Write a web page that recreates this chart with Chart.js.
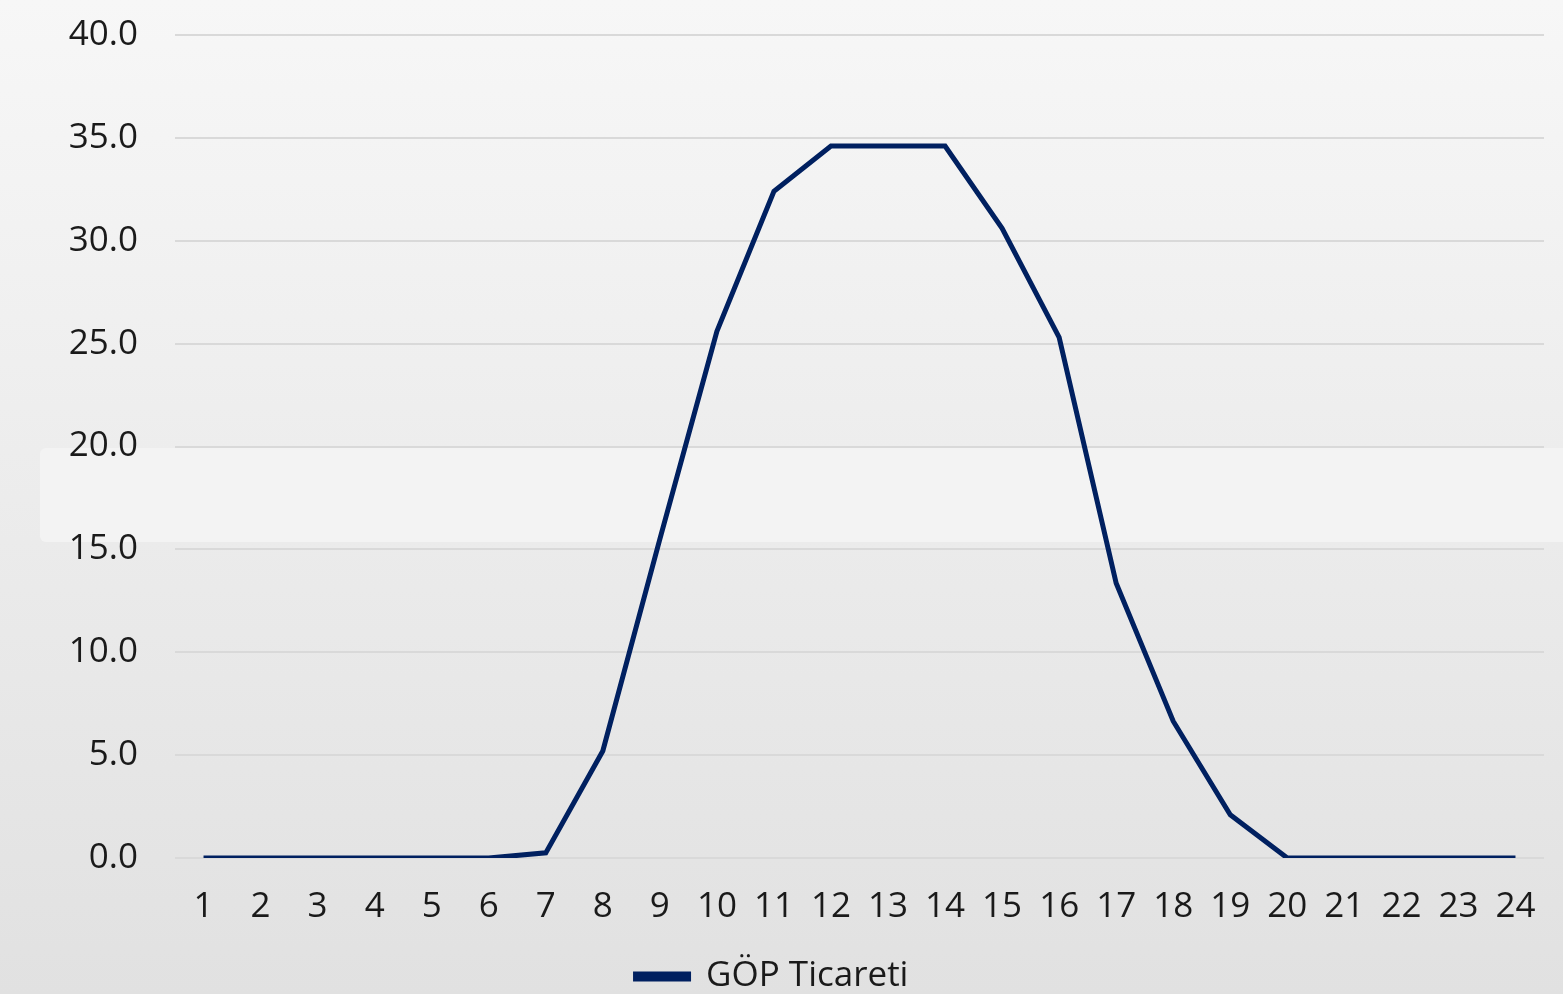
<!DOCTYPE html>
<html>
<head>
<meta charset="utf-8">
<script src="https://cdn.jsdelivr.net/npm/chart.js@4/dist/chart.umd.min.js"></script>
<style>
  html, body {
    margin: 0;
    width: 1563px;
    height: 994px;
    overflow: hidden;
    background: linear-gradient(#f7f7f7, #e1e1e1);
    font-family: "Open Sans", sans-serif;
  }
  #panel {
    position: absolute;
    left: 40px;
    top: 448px;
    width: 1530px;
    height: 94px;
    border-radius: 6px;
    background: #f3f3f3;
  }
  #wrap {
    position: absolute;
    left: 0;
    top: 0;
    width: 1563px;
    height: 1004px;
  }
</style>
</head>
<body>
<div id="panel"></div>
<div id="wrap"><canvas id="canvas"></canvas></div>
<script>
// saat ve GÖP değerleri
const hours = ['1','2','3','4','5','6','7','8','9','10','11','12','13','14','15','16','17','18','19','20','21','22','23','24'];
const gop = [0, 0, 0, 0, 0, 0, 0.25, 5.2, 15.5, 25.6, 32.4, 34.6, 34.6, 34.6, 30.6, 25.3, 13.35, 6.65, 2.1, 0, 0, 0, 0, 0];
const yTicks = [0, 5, 10, 15, 20, 25, 30, 35, 40];
const seriesName = 'G\u00D6P Ticareti';

const navy = '#002060';
const fnt = { size: 35, family: 'Open Sans' };

new Chart(document.getElementById('canvas'), {
  type: 'line',
  data: {
    labels: hours,
    datasets: [{
      label: seriesName,
      data: gop,
      borderColor: navy,
      backgroundColor: navy,
      borderWidth: 5,
      pointRadius: 0,
      tension: 0
    }]
  },
  options: {
    responsive: true,
    maintainAspectRatio: false,
    animation: false,
    layout: { padding: { top: 35, right: 19, bottom: 0 } },
    plugins: {
      tooltip: { enabled: false },
      legend: {
        position: 'bottom',
        labels: {
          boxWidth: 53,
          boxHeight: 5,
          color: '#1a1a1a',
          font: fnt,
          padding: 8
        }
      }
    },
    scales: {
      x: {
        offset: true,
        afterFit: (s) => { s.height += 3; },
        grid: { display: false },
        border: { display: false },
        ticks: {
          color: '#1a1a1a',
          font: fnt,
          maxRotation: 0,
          autoSkip: false,
          padding: 20
        }
      },
      y: {
        min: 0,
        max: 40,
        afterFit: (s) => { s.width = 175; },
        afterBuildTicks: (s) => { s.ticks = yTicks.map(v => ({ value: v })); },
        grid: { color: '#d9d9d9', lineWidth: 2, drawTicks: true, tickLength: 37, tickColor: 'rgba(0,0,0,0)' },
        border: { display: false },
        ticks: {
          color: '#1a1a1a',
          font: fnt,
          padding: 0,
          callback: (v) => v.toFixed(1)
        }
      }
    }
  }
});
</script>
</body>
</html>
